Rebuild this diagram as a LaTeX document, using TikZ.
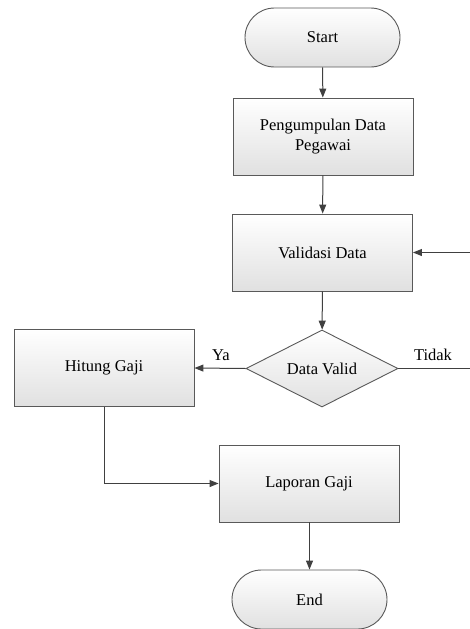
\documentclass[tikz,border=0pt]{standalone}
\usepackage{fontspec}
\setmainfont{Liberation Serif}
\usetikzlibrary{shapes.geometric,shapes.misc,arrows.meta}
\begin{document}
\begin{tikzpicture}[x=1pt,y=-1pt,
  base/.style={draw=black!65, line width=0.9pt, top color=white, bottom color=black!12,
    font=\fontsize{16.5}{19.5}\selectfont, align=center, inner sep=0pt},
  procbox/.style={base, rectangle, minimum width=180pt, minimum height=77pt},
  termbox/.style={base, rounded rectangle, minimum width=155pt, minimum height=59pt},
  decbox/.style={base, diamond, aspect=2, minimum width=152pt, minimum height=77pt},
  conn/.style={draw=black!75, line width=1pt, -{Triangle[length=9pt,width=7pt]}},
  plain/.style={draw=black!75, line width=1pt},
  lbl/.style={font=\fontsize{16.5}{19.5}\selectfont, inner sep=0pt}]
\useasboundingbox (0,0) rectangle (470,629);

\node[termbox] (start) at (322.5,37.5) {Start};
\node[procbox] (peng) at (323,136.5) {Pengumpulan Data\\Pegawai};
\node[procbox] (vali) at (322.5,252.5) {Validasi Data};
\node[decbox] (dv) at (322,368.5) {Data Valid};
\node[procbox] (hit) at (104,368) {Hitung Gaji};
\node[procbox] (lap) at (309,483.5) {Laporan Gaji};
\node[termbox] (end) at (309.5,599.5) {End};

\coordinate (r1) at (470,252.5);
\coordinate (r2) at (470,368.5);

\draw[conn] (start) -- (peng);
\draw[conn] (peng) -- (vali);
\draw[conn] (vali) -- (dv);
\draw[conn] (dv.west) -- (hit.east);
\draw[plain] (dv.east) -- (r2);
\draw[conn] (r1) -- (vali.east);
\draw[conn] (hit.south) |- (lap.west);
\draw[conn] (lap.south -| end.north) -- (end.north);

\node[lbl] (ya) at (221,355) {Ya};
\node[lbl] (tidak) at (433,355) {Tidak};
\end{tikzpicture}
\end{document}
